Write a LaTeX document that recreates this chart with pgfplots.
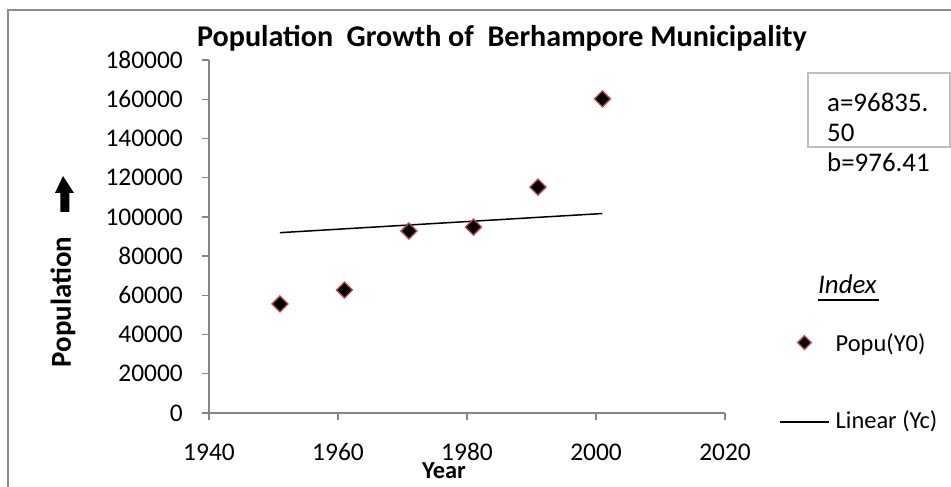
\documentclass[border=0pt]{standalone}
\usepackage{fontspec}
\setmainfont{Carlito}
\usepackage{pgfplots}
\pgfplotsset{compat=1.18}
\definecolor{axgray}{HTML}{868686}
\definecolor{framegray}{HTML}{8C8C8C}
\definecolor{boxgray}{HTML}{BFBFBF}
\definecolor{markred}{HTML}{C0504D}
\newcommand{\tfont}{\fontsize{24.5}{28}\selectfont}
\newcommand{\tickfont}{\fontsize{25.5}{29}\selectfont}
\pgfplotsset{
  scatterimg/.style={legend image code/.code={\draw[mark repeat=2,mark phase=2,##1, mark size=4.9bp] plot coordinates {(0bp,1bp)(24.5bp,1bp)(49bp,1bp)};}},
  lineimg/.style={legend image code/.code={\path (0bp,6bp); \draw[##1] (0bp,-2bp) -- (49bp,-2bp);}},
}
\begin{document}
\begin{tikzpicture}
\useasboundingbox (-209bp,-74bp) rectangle (742bp,413bp);
% outer frame (left and top edges visible)
\draw[framegray, line width=1.6bp] (-201bp,-80bp) -- (-201bp,403bp) -- (750bp,403bp);
\begin{axis}[
  at={(0,0)}, anchor=south west,
  width=516bp, height=353bp, scale only axis,
  xmin=1940, xmax=2020, ymin=0, ymax=180000,
  xtick={1940,1960,1980,2000,2020},
  xticklabels={1940,1960,1980,2000,2020},
  ytick={0,20000,40000,60000,80000,100000,120000,140000,160000,180000},
  yticklabels={0,20000,40000,60000,80000,100000,120000,140000,160000,180000},
  axis x line*=bottom, axis y line*=left,
  tick align=outside, major tick length=7bp,
  tick style={draw=axgray, line width=1.4bp},
  axis line style={draw=axgray, line width=1.6bp},
  scaled ticks=false,
  yticklabel style={font=\tickfont, anchor=east, inner sep=0pt, xshift=-19bp},
  xticklabel style={font=\tickfont, anchor=base, inner sep=0pt, yshift=-40bp},
  clip=false,
  legend cell align=left,
  legend style={at={(1.1047,0.0885)}, anchor=west, draw=none, fill=none,
    inner sep=0pt, row sep=57bp, column sep=6bp,
    nodes={inner sep=0pt},
    font=\tfont},
]
\addplot[only marks, mark=square*, mark size=5.7bp,
  mark options={rotate=45, fill=black, draw=markred, line width=1.3bp},
  scatterimg]
  coordinates {(1951,55600) (1961,62700) (1971,92800) (1981,94800) (1991,115200) (2001,160168)};
\addlegendentry{Popu(Y0)}
\addplot[black, line width=1.5bp, no marks, lineimg]
  coordinates {(1951,91953) (2001,101717)};
\addlegendentry{Linear (Yc)}
\end{axis}
% title
\node[anchor=base west, inner sep=0pt, font=\fontsize{30.2}{35}\selectfont\bfseries] at (-12bp,366bp) {Population\ \ Growth of\ \ Berhampore Municipality};
% y label with arrow
\node[rotate=90, inner sep=0pt, font=\fontsize{29}{34}\selectfont\bfseries] at (-146bp,111bp) {Population};
\fill[black] (-146bp,237bp) -- (-154bp,220bp) -- (-148.5bp,220bp) -- (-148.5bp,201bp) -- (-139.5bp,201bp) -- (-139.5bp,220bp) -- (-135bp,220bp) -- cycle;
% x label
\node[anchor=base, inner sep=0pt, font=\fontsize{24.5}{28}\selectfont\bfseries] at (235bp,-65bp) {Year};
% text box
\draw[boxgray, line width=1.8bp] (599bp,340bp) rectangle (741bp,266bp);
\node[anchor=base west, inner sep=0pt, font=\fontsize{27}{30}\selectfont] at (618bp,301bp) {a=96835.};
\node[anchor=base west, inner sep=0pt, font=\fontsize{27}{30}\selectfont] at (618bp,271bp) {50};
\node[anchor=base west, inner sep=0pt, font=\fontsize{27}{30}\selectfont] at (618bp,241bp) {b=976.41};
% legend heading
\node[anchor=base west, inner sep=0pt, font=\fontsize{27}{30}\selectfont\itshape] at (609bp,119bp) {Index};
\draw[black, line width=1.3bp] (609bp,113bp) -- (670bp,113bp);
\end{tikzpicture}
\end{document}
